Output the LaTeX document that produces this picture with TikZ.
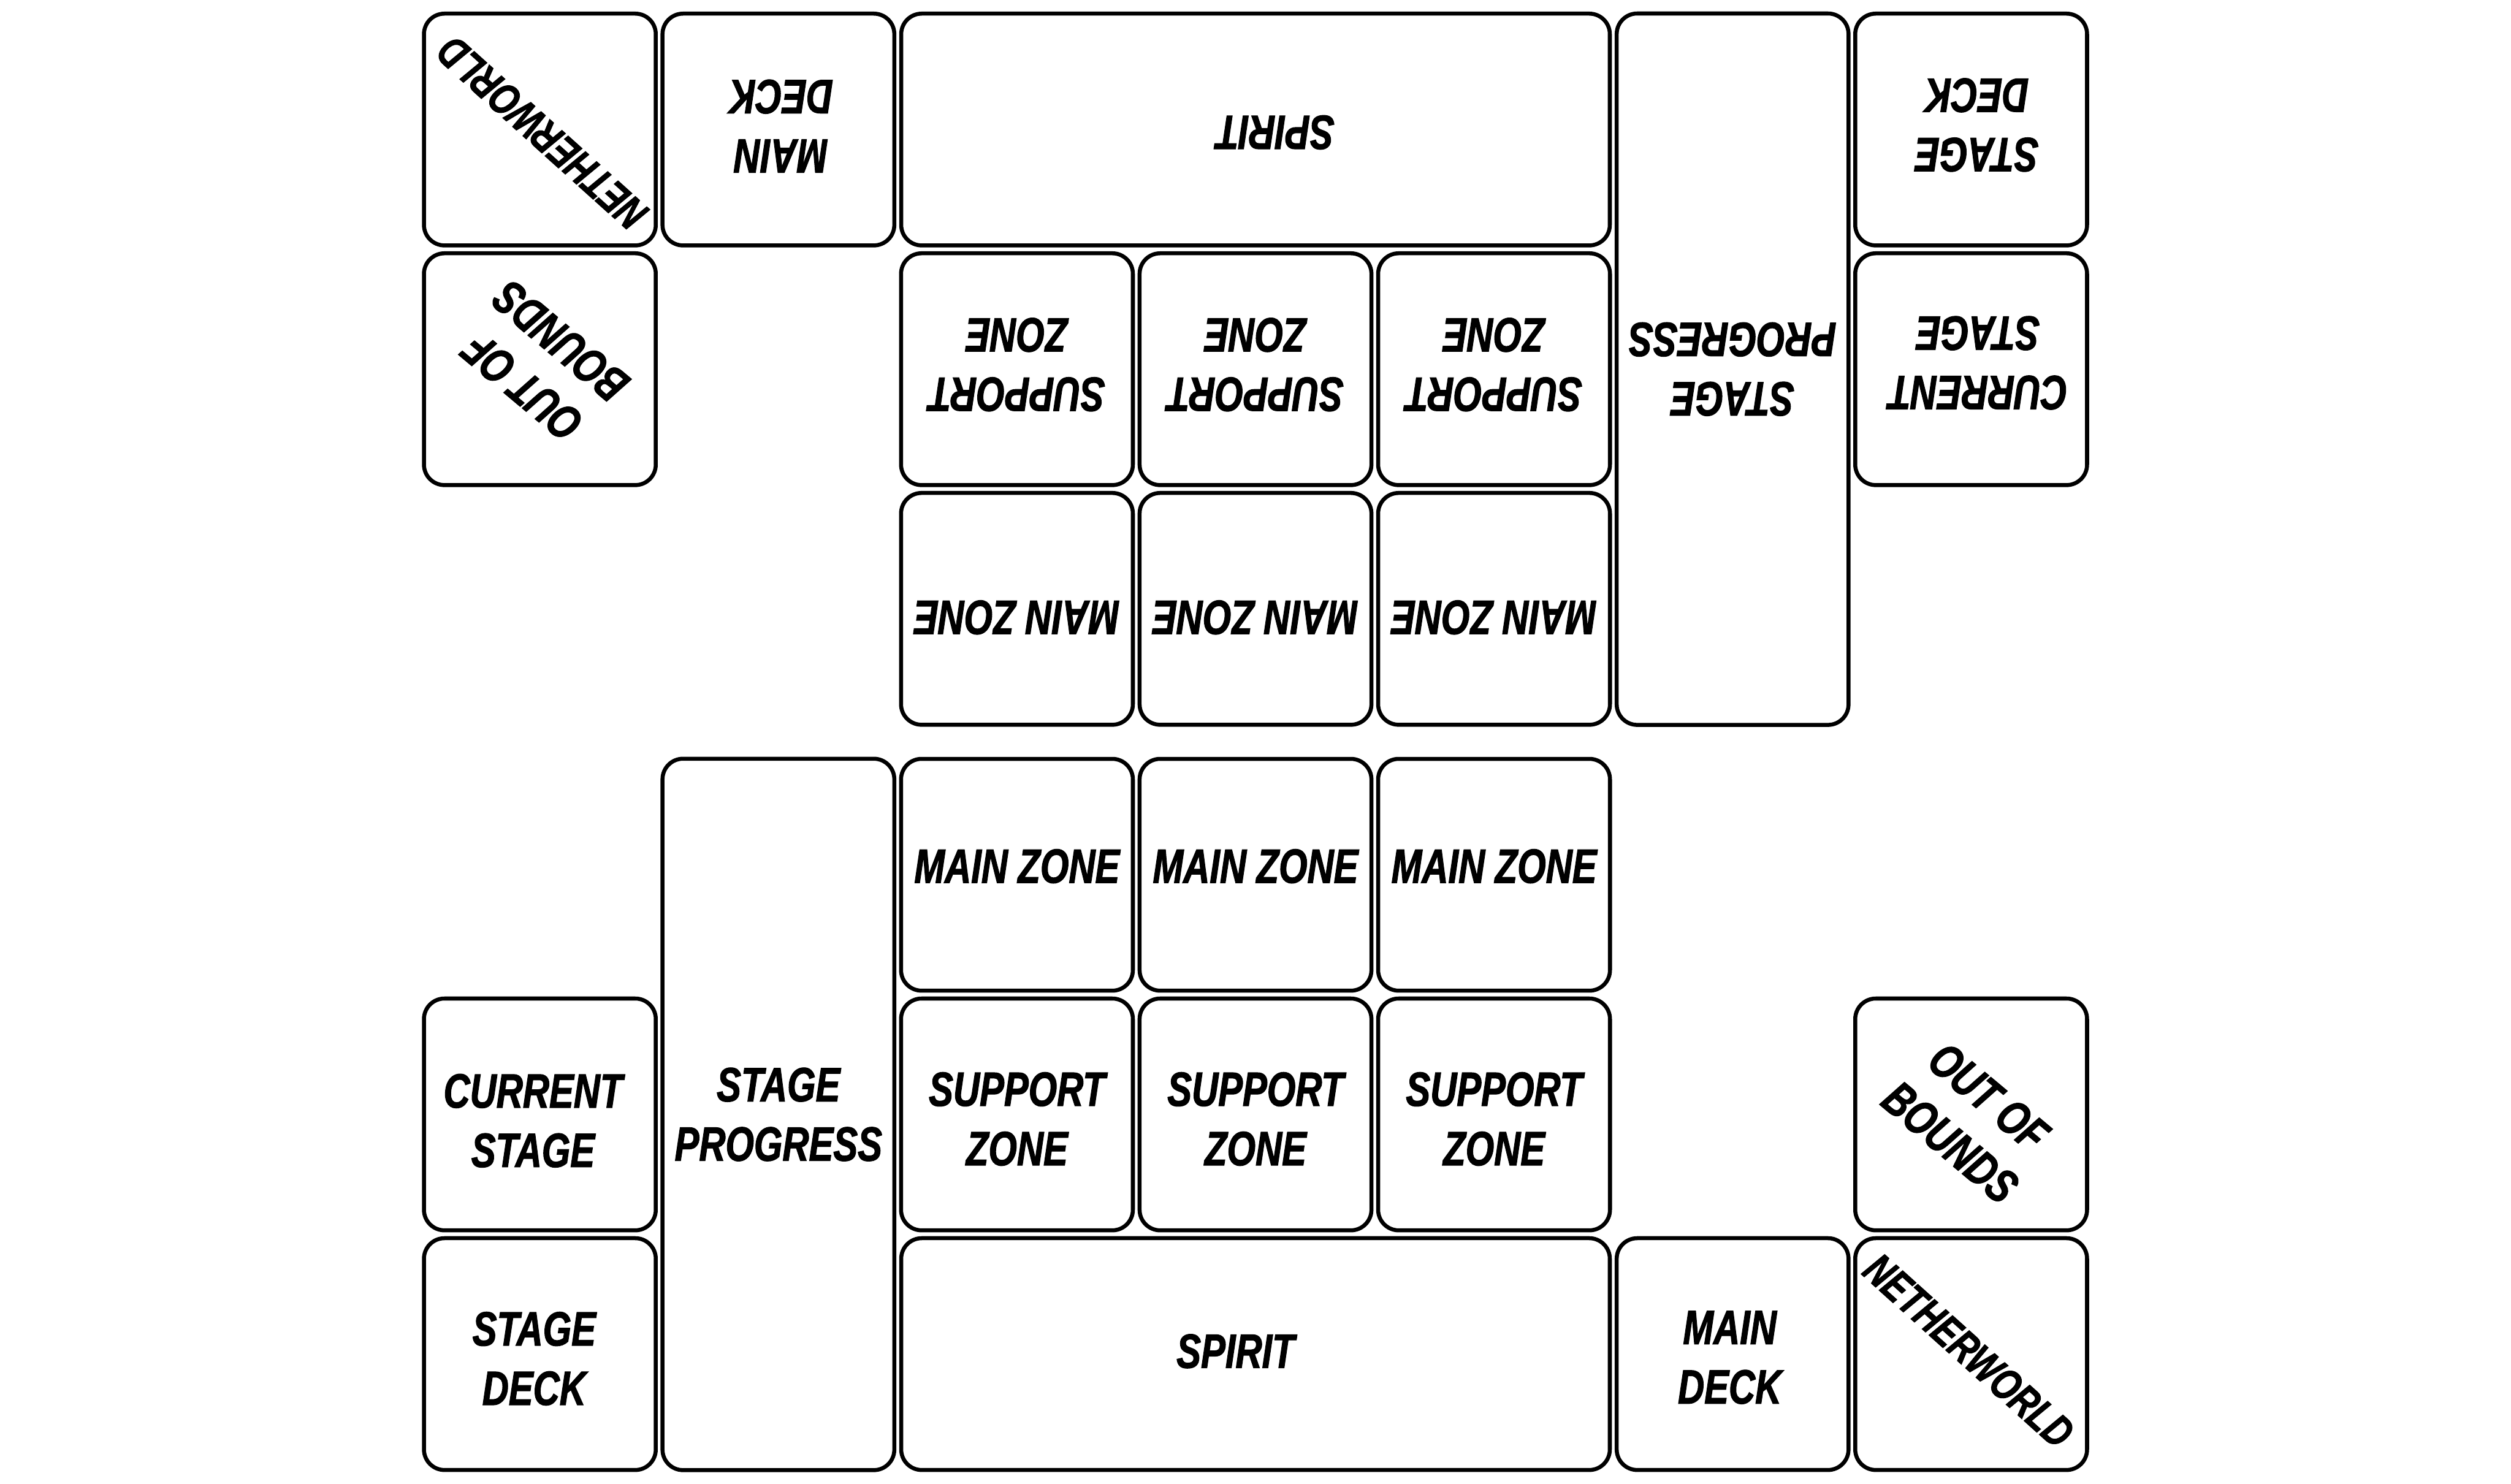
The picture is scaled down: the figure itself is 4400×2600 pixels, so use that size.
\documentclass[tikz,border=0pt]{standalone}
\usepackage{fontspec}
\newfontfamily\zf{Liberation Sans}[FakeStretch=0.76, FakeBold=1.5]
\tikzset{
  zone/.style={draw=black, fill=white, line width=0.07cm, rounded corners=0.36cm,
    minimum width=4.06cm, minimum height=4.06cm, inner sep=0pt},
  lbl/.style={font=\zf\bfseries\itshape\fontsize{24}{29.6}\selectfont,
    align=center, inner sep=0pt},
  nlbl/.style={lbl, font=\zf\bfseries\itshape\fontsize{22}{29.6}\selectfont},
}
\newcommand\drawhalf[1]{%
  % boxes
  \node[zone] (#1mzA) at (1782,1533) {};
  \node[zone] (#1mzB) at (2200,1533) {};
  \node[zone] (#1mzC) at (2618,1533) {};
  \node[zone] (#1szA) at (1782,1953) {};
  \node[zone] (#1szB) at (2200,1953) {};
  \node[zone] (#1szC) at (2618,1953) {};
  \node[zone] (#1cur) at (946,1953) {};
  \node[zone] (#1sdeck) at (946,2373) {};
  \node[zone, minimum height=12.46cm] (#1prog) at (1364,1953) {};
  \node[zone, minimum width=12.41cm] (#1spirit) at (2200,2373) {};
  \node[zone] (#1mdeck) at (3036,2373) {};
  \node[zone] (#1oob) at (3454,1953) {};
  \node[zone] (#1neth) at (3454,2373) {};
  % labels
  \node[lbl] (#1mzAt) at (1782,1518) {MAIN ZONE};
  \node[lbl] (#1mzBt) at (2200,1518) {MAIN ZONE};
  \node[lbl] (#1mzCt) at (2618,1518) {MAIN ZONE};
  \node[lbl] (#1szAt) at (1782,1961) {SUPPORT\\ZONE};
  \node[lbl] (#1szBt) at (2200,1961) {SUPPORT\\ZONE};
  \node[lbl] (#1szCt) at (2618,1961) {SUPPORT\\ZONE};
  \node[lbl] (#1curt) at (934,1964) {CURRENT\\STAGE};
  \node[lbl] (#1sdeckt) at (936,2381) {STAGE\\DECK};
  \node[lbl] (#1progt) at (1364,1953) {STAGE\\PROGRESS};
  \node[lbl] (#1spiritt) at (2165,2368) {SPIRIT};
  \node[lbl] (#1mdeckt) at (3031,2379) {MAIN\\DECK};
  \node[lbl, rotate=-40] (#1oobt) at (3451,1962) {OUT OF\\BOUNDS};
  \node[nlbl, rotate=-42] (#1netht) at (3450,2367) {NETHERWORLD};
}
\begin{document}
\begin{tikzpicture}[x=0.01cm, y=-0.01cm]
  \fill[white] (0,0) rectangle (4400,2600);
  \useasboundingbox (0,0) rectangle (4400,2600);
  \drawhalf{b}
  \begin{scope}[rotate around={180:(2200,1300)}, transform shape]
    \drawhalf{t}
  \end{scope}
\end{tikzpicture}
\end{document}
